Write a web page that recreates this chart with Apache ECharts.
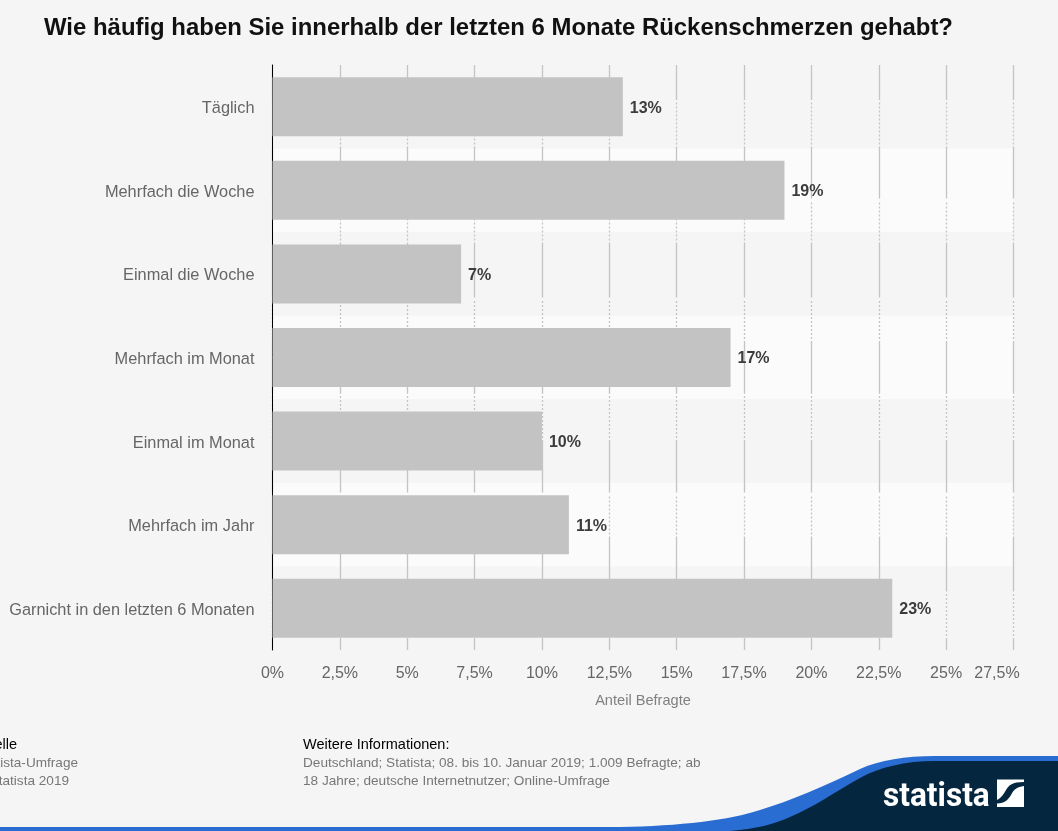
<!DOCTYPE html>
<html>
<head>
<meta charset="utf-8">
<title>Rückenschmerzen</title>
<script src="https://cdn.jsdelivr.net/npm/echarts@6/dist/echarts.min.js"></script>
<style>
html, body { margin: 0; padding: 0; background: #f5f5f5; }
#box1 { width: 1058px; height: 831px; }
</style>
</head>
<body>
<div id="box1"></div>
<script>
var categories = ['Täglich', 'Mehrfach die Woche', 'Einmal die Woche', 'Mehrfach im Monat', 'Einmal im Monat', 'Mehrfach im Jahr', 'Garnicht in den letzten 6 Monaten'];
var values = [13, 19, 7, 17, 10, 11, 23];
var tickLabels = ['0%', '2,5%', '5%', '7,5%', '10%', '12,5%', '15%', '17,5%', '20%', '22,5%', '25%', '27,5%'];

var FONT = '"Liberation Sans", Arial, sans-serif';

// grid lines are solid, then dotted, once per row
var gridSegments = [[35, 48.5], [52, 46], [55, 45.6], [52.7, 48.3], [52.4, 46], [55, 48.4]];
var gridDash = [];
gridSegments.forEach(function (seg) {
    var n = Math.floor(seg[1] / 4);
    var rest = seg[1] - n * 4;
    gridDash.push(seg[0], 2 + rest);
    for (var i = 0; i < n - 1; i++) {
        gridDash.push(2, 2);
    }
});

// footer wave and logo shapes
echarts.graphic.registerShape('waveBlue', echarts.graphic.extendPath('M0,827 L620,827 C680,826 730,820 760,810 C790,801 825,786 860,769 C880,760 905,756 935,756 L1058,756 L1058,831 L0,831 Z', {}));
echarts.graphic.registerShape('waveNavy', echarts.graphic.extendPath('M1058,761 L935,761 C905,761 880,767 860,778 C835,792 812,808 790,817 C775,824 755,829 730,831 L1058,831 Z', {}));
echarts.graphic.registerShape('logoMark', echarts.graphic.extendPath('M997,779.5 L1024,779.5 L1024,782 C1012,782 1009,785 1006,790 C1003,795 1002,797 997,800 Z M1024,786 L1024,807 L997,807 L997,803.5 C1005,803 1008,800 1011,795 C1014,789 1017,787 1024,786 Z', {}));

var myChart = echarts.init(document.getElementById('box1'), null, { renderer: 'canvas' });

var option = {
    animation: false,
    backgroundColor: '#f5f5f5',
    textStyle: { fontFamily: FONT },
    title: {
        text: 'Wie häufig haben Sie innerhalb der letzten 6 Monate Rückenschmerzen gehabt?',
        left: 39,
        top: 11,
        textStyle: { fontFamily: FONT, fontSize: 23.93, fontWeight: 'bold', color: '#111111' }
    },
    grid: { left: 272.5, top: 65, width: 741, height: 585, containLabel: false },
    xAxis: {
        type: 'value',
        min: 0,
        max: 27.5,
        interval: 2.5,
        name: 'Anteil Befragte',
        nameLocation: 'middle',
        nameGap: 43,
        nameTextStyle: { fontFamily: FONT, fontSize: 14.6, color: '#808080' },
        axisLine: { show: false },
        axisTick: { show: false },
        splitLine: { show: true, lineStyle: { color: '#c4c4c4', width: 1.3, type: gridDash } },
        axisLabel: {
            margin: 16,
            fontFamily: FONT,
            fontSize: 16,
            color: '#666666',
            hideOverlap: false,
            formatter: function (v, i) {
                // last label is pulled left so it stays inside the page
                return i === tickLabels.length - 1 ? '{last|' + tickLabels[i] + '}' : tickLabels[i];
            },
            rich: {
                last: { fontFamily: FONT, fontSize: 16, color: '#666666', padding: [0, 33, 0, 0] }
            }
        }
    },
    yAxis: {
        type: 'category',
        inverse: true,
        data: categories,
        axisLine: { show: true, onZero: false, lineStyle: { color: '#000000', width: 1 } },
        axisTick: { show: false },
        axisLabel: {
            margin: 18,
            formatter: '{cat|{value}}',
            rich: {
                cat: { fontFamily: FONT, fontSize: 16.35, color: '#666666', padding: [4, 0, 0, 0] }
            }
        },
        splitLine: { show: false },
        splitArea: { show: true, areaStyle: { color: ['#f5f5f5', '#fbfbfb'] } }
    },
    series: [{
        type: 'bar',
        data: values,
        barWidth: 59,
        itemStyle: { color: '#c3c3c3' },
        label: {
            show: true,
            position: 'right',
            distance: 7,
            offset: [0, 1.5],
            formatter: '{c}%',
            fontFamily: FONT,
            fontSize: 16,
            fontWeight: 'bold',
            color: '#3c3c3c'
        }
    }],
    graphic: [
        { type: 'text', silent: true, style: { x: 17, y: 745, text: 'Quelle', textAlign: 'right', textVerticalAlign: 'middle', font: '14.5px ' + FONT, fill: '#000000' } },
        { type: 'text', silent: true, style: { x: 78, y: 763, text: 'Statista-Umfrage', textAlign: 'right', textVerticalAlign: 'middle', font: '13.6px ' + FONT, fill: '#777777' } },
        { type: 'text', silent: true, style: { x: 69, y: 781, text: '© Statista 2019', textAlign: 'right', textVerticalAlign: 'middle', font: '13.6px ' + FONT, fill: '#777777' } },
        { type: 'text', silent: true, style: { x: 303, y: 745, text: 'Weitere Informationen:', textVerticalAlign: 'middle', font: '14.5px ' + FONT, fill: '#000000' } },
        { type: 'text', silent: true, style: { x: 303, y: 763, text: 'Deutschland; Statista; 08. bis 10. Januar 2019; 1.009 Befragte; ab', textVerticalAlign: 'middle', font: '13.6px ' + FONT, fill: '#777777' } },
        { type: 'text', silent: true, style: { x: 303, y: 781, text: '18 Jahre; deutsche Internetnutzer; Online-Umfrage', textVerticalAlign: 'middle', font: '13.6px ' + FONT, fill: '#777777' } },
        { type: 'waveBlue', silent: true, style: { fill: '#2a6dd2' } },
        { type: 'waveNavy', silent: true, style: { fill: '#05263f' } },
        { type: 'text', silent: true, x: 883, y: 814, scaleX: 0.93, style: { x: 0, y: 0, text: 'statista', textVerticalAlign: 'bottom', font: 'bold 34px Roboto, ' + FONT, fill: '#ffffff' } },
        { type: 'logoMark', silent: true, style: { fill: '#ffffff' } }
    ]
};

myChart.setOption(option, true);
</script>
</body>
</html>
